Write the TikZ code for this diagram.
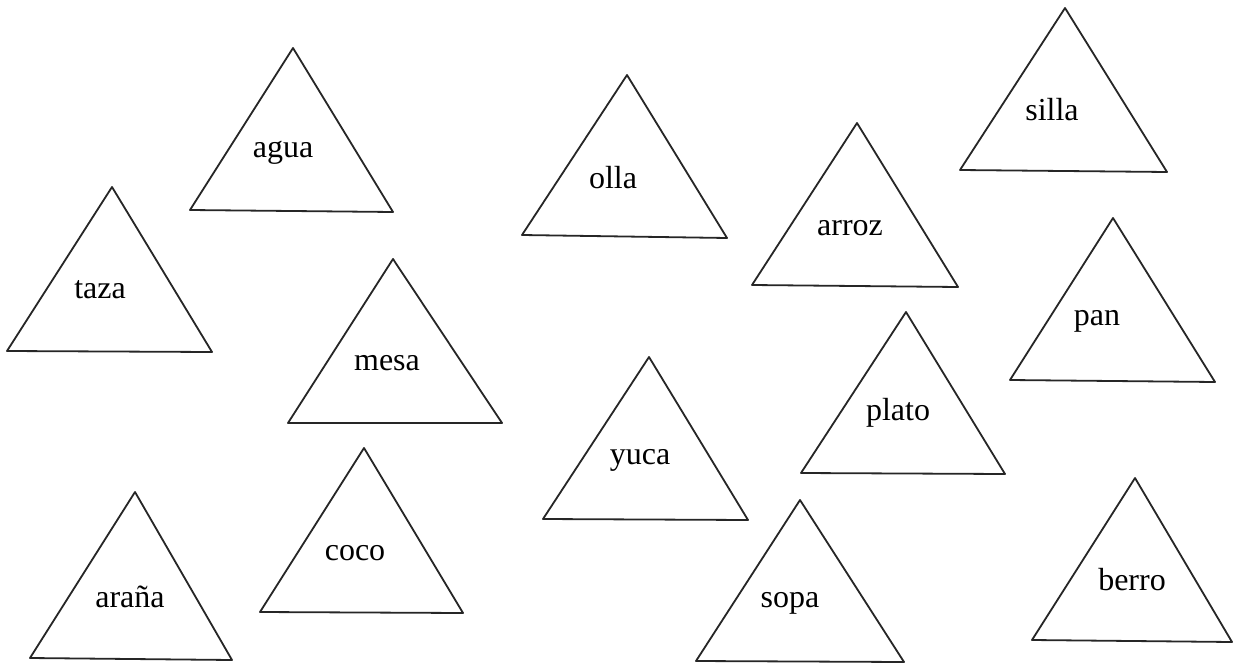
\documentclass[tikz,border=0pt]{standalone}
\usepackage{fontspec}
\setmainfont{Liberation Serif}
\usepackage{tikz}

\begin{document}
\begin{tikzpicture}[x=1pt,y=-1pt,line join=round,
    tri/.style={line width=1.8pt,black!85},
    word/.style={font=\fontsize{32}{38}\selectfont,inner sep=0pt}]
  \useasboundingbox[fill=white] (0,0) rectangle (1233,663);
  % left group
  \draw[tri] (293,48) -- (190,210) -- (393,212) -- cycle;
  \draw[tri] (112,187) -- (7,351) -- (212,352) -- cycle;
  \draw[tri] (393,259) -- (288,423) -- (502,423) -- cycle;
  \draw[tri] (135,492) -- (30,658) -- (232,660) -- cycle;
  \draw[tri] (364,448) -- (260,612) -- (463,613) -- cycle;
  % middle group
  \draw[tri] (627,75) -- (522,235) -- (727,238) -- cycle;
  \draw[tri] (857,123) -- (752,285) -- (958,287) -- cycle;
  \draw[tri] (649,357) -- (543,519) -- (748,520) -- cycle;
  \draw[tri] (906,312) -- (801,473) -- (1005,474) -- cycle;
  \draw[tri] (800,500) -- (696,661) -- (904,662) -- cycle;
  % right group
  \draw[tri] (1065,8) -- (960,170) -- (1167,172) -- cycle;
  \draw[tri] (1113,218) -- (1010,380) -- (1215,382) -- cycle;
  \draw[tri] (1135,478) -- (1032,640) -- (1232,642) -- cycle;
  % words
  \node[word] (agua) at (283,153) {agua};
  \node[word] (taza) at (100,290) {taza};
  \node[word] (mesa) at (387,363) {mesa};
  \node[word] (arana) at (130,597) {araña};
  \node[word] (coco) at (355,553) {coco};
  \node[word] (olla) at (613,178) {olla};
  \node[word] (arroz) at (850,228) {arroz};
  \node[word] (yuca) at (640,460) {yuca};
  \node[word] (plato) at (898,413) {plato};
  \node[word] (sopa) at (790,603) {sopa};
  \node[word] (silla) at (1052,110) {silla};
  \node[word] (pan) at (1097,321) {pan};
  \node[word] (berro) at (1132,580) {berro};
\end{tikzpicture}
\end{document}
